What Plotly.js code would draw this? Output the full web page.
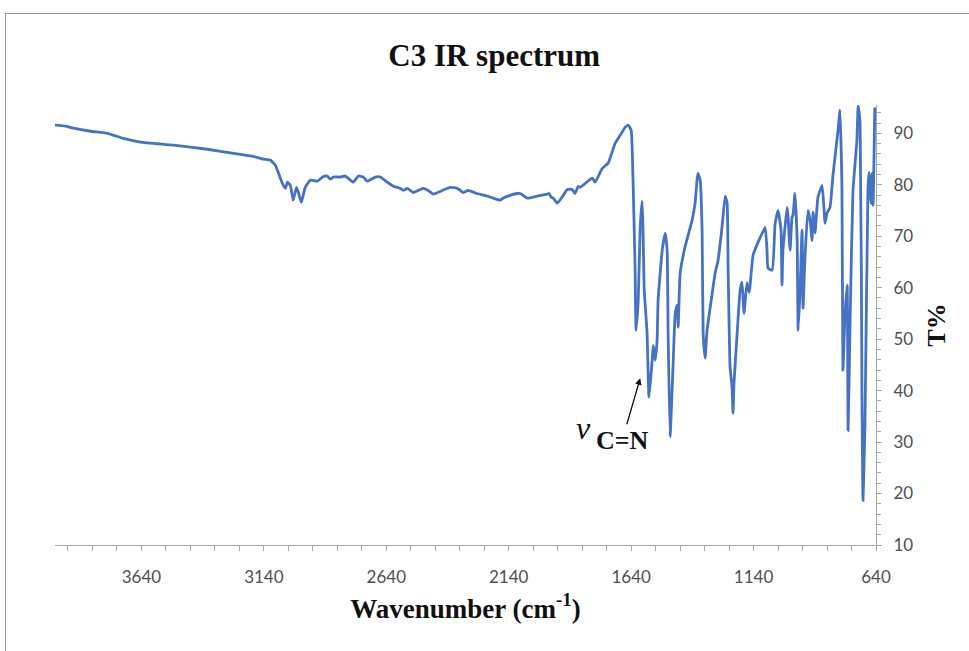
<!DOCTYPE html>
<html>
<head>
<meta charset="utf-8">
<script src="https://cdn.plot.ly/plotly-3.0.1.min.js"></script>
<style>
  html, body { margin: 0; padding: 0; background: #fff; }
  #chart { width: 969px; height: 651px; }
  #frame { position: absolute; left: 5px; top: 13px; width: 980px; height: 660px;
           border-left: 1px solid #9a9a9a; border-top: 1px solid #9a9a9a; pointer-events: none; }
</style>
</head>
<body>
<div id="chart"></div>
<div id="frame"></div>
<script>
// Wavenumber (cm-1)
const wavenumber = [
  3995, 3950, 3918, 3848, 3779, 3714, 3644, 3509, 3371, 3236, 3183, 3142, 3114, 3093, 3081,
  3065, 3052, 3044, 3032, 3020, 3007, 2999, 2987, 2971, 2950, 2922, 2897, 2881, 2869, 2856,
  2828, 2807, 2775, 2754, 2734, 2718, 2685, 2664, 2636, 2611, 2583, 2571, 2554, 2530, 2489,
  2469, 2448, 2411, 2379, 2350, 2326, 2306, 2269, 2228, 2204, 2175, 2163, 2143, 2105, 2093,
  2064, 2024, 1983, 1975, 1967, 1958, 1942, 1922, 1901, 1881, 1869, 1856, 1848, 1799, 1787,
  1758, 1734, 1705, 1685, 1664, 1652, 1640, 1632, 1624, 1620, 1611, 1603, 1595, 1591, 1587,
  1575, 1567, 1554, 1550, 1542, 1534, 1530, 1513, 1501, 1493, 1489, 1481, 1469, 1460, 1452,
  1448, 1440, 1420, 1391, 1379, 1371, 1367, 1358, 1350, 1346, 1338, 1330, 1309, 1297, 1285,
  1269, 1256, 1248, 1244, 1236, 1228, 1224, 1220, 1207, 1195, 1187, 1179, 1167, 1158, 1142,
  1122, 1093, 1085, 1081, 1064, 1052, 1040, 1028, 1024, 1020, 1003, 999, 991, 983, 979,
  971, 962, 958, 950, 942, 938, 930, 918, 909, 901, 897, 889, 877, 860, 848,
  840, 828, 815, 795, 787, 779, 775, 767, 758, 754, 746, 734, 718, 713, 705,
  697, 693, 685, 673, 669, 660, 656, 652, 645
];
// Transmittance T%
const transmittance = [
  91.6, 91.4, 91.0, 90.4, 90.0, 89.0, 88.3, 87.7, 86.9, 85.9, 85.5, 85.0, 84.8, 83.8, 82.4,
  80.3, 79.3, 80.5, 79.9, 77.0, 79.5, 78.5, 76.6, 79.5, 80.9, 80.7, 81.6, 81.7, 81.1, 81.5,
  81.5, 81.7, 80.5, 81.7, 81.5, 80.7, 81.5, 81.5, 80.5, 79.7, 79.3, 78.9, 79.3, 78.5, 79.3,
  78.9, 78.2, 78.9, 79.5, 79.3, 78.5, 78.9, 78.3, 77.8, 77.4, 77.0, 77.4, 77.8, 78.3, 78.3,
  77.4, 77.8, 78.2, 78.3, 77.6, 77.4, 76.4, 77.6, 79.1, 79.1, 78.3, 79.7, 79.5, 81.3, 80.5,
  83.2, 84.2, 88.1, 89.6, 91.2, 91.6, 90.6, 80.3, 64.0, 51.7, 57.6, 71.7, 76.8, 70.6, 60.0,
  51.2, 38.7, 45.9, 48.8, 45.9, 49.8, 57.6, 67.3, 70.6, 67.3, 51.2, 31.0, 44.6, 55.0, 56.6,
  52.3, 62.8, 67.9, 73.1, 76.4, 80.9, 82.2, 80.9, 70.6, 51.2, 46.3, 51.7, 58.9, 62.8, 65.3,
  71.7, 77.8, 76.4, 64.0, 44.6, 40.7, 35.6, 41.4, 51.2, 59.5, 61.1, 55.0, 61.0, 59.1, 66.3,
  68.8, 71.7, 67.3, 63.8, 63.4, 72.5, 75.0, 71.2, 60.5, 67.3, 75.6, 73.7, 67.3, 73.7, 74.1,
  78.3, 69.2, 51.7, 59.5, 71.2, 56.0, 65.9, 75.0, 73.1, 69.2, 74.7, 70.6, 77.6, 79.9, 72.5,
  74.5, 75.6, 82.2, 90.6, 94.5, 78.9, 44.0, 54.3, 60.5, 32.3, 53.1, 78.9, 88.6, 95.4, 91.9,
  36.8, 18.7, 33.7, 78.9, 82.4, 76.4, 82.2, 76.0, 95.0
];
const xTickVals = [3640, 3140, 2640, 2140, 1640, 1140, 640];
const xTickText = ["3640", "3140", "2640", "2140", "1640", "1140", "640"];
const yTickVals = [10, 20, 30, 40, 50, 60, 70, 80, 90];

const trace = {
  x: wavenumber,
  y: transmittance,
  type: 'scatter',
  mode: 'lines',
  line: { color: '#4472C4', width: 2.8, shape: 'spline', smoothing: 0.4 },
  hoverinfo: 'x+y',
  showlegend: false
};

const axisFont = { family: 'Lato, "Open Sans", sans-serif', size: 17, color: '#505050' };
const serif = '"Liberation Serif", "Times New Roman", serif';

const layout = {
  width: 969,
  height: 651,
  margin: { l: 55, r: 93, t: 105, b: 106 },
  paper_bgcolor: '#ffffff',
  plot_bgcolor: '#ffffff',
  title: {
    text: 'C3 IR spectrum',
    font: { family: serif, size: 31, color: '#111', weight: 'bold' },
    x: 0.51, xref: 'container', xanchor: 'center',
    y: 0.915, yref: 'container', yanchor: 'middle'
  },
  xaxis: {
    range: [3993, 640],
    autorange: false,
    tickmode: 'array',
    tickvals: xTickVals,
    ticktext: xTickText,
    tickfont: axisFont,
    ticks: 'outside',
    ticklen: 5,
    tickcolor: '#a6a6a6',
    ticklabelstandoff: 12,
    minor: { dtick: 100, tick0: 640, ticks: 'outside', ticklen: 5, tickcolor: '#a6a6a6' },
    showline: true,
    linecolor: '#a6a6a6',
    linewidth: 1,
    showgrid: false,
    zeroline: false,
    title: {
      text: 'Wavenumber (cm<sup>-1</sup>)',
      font: { family: serif, size: 27, color: '#111', weight: 'bold' },
      standoff: 12
    }
  },
  yaxis: {
    range: [10, 95.5],
    autorange: false,
    side: 'right',
    tickmode: 'array',
    tickvals: yTickVals,
    tickfont: axisFont,
    ticks: 'outside',
    ticklen: 5,
    tickcolor: '#a6a6a6',
    ticklabelstandoff: 8,
    minor: { dtick: 2, tick0: 10, ticks: 'outside', ticklen: 4, tickcolor: '#a6a6a6' },
    showline: true,
    linecolor: '#a6a6a6',
    linewidth: 1,
    showgrid: false,
    zeroline: false,
    title: {
      text: 'T%',
      font: { family: serif, size: 26, color: '#111', weight: 'bold' },
      standoff: 14
    }
  },
  annotations: [
    {
      x: 1603, y: 42.4, xref: 'x', yref: 'y',
      ax: -18, ay: 62, axref: 'pixel', ayref: 'pixel',
      text: 'C=N', showarrow: true,
      arrowhead: 2, arrowsize: 1, arrowwidth: 1.3, arrowcolor: '#111',
      font: { family: serif, size: 26, color: '#111', weight: 'bold' }
    },
    {
      x: 1833, y: 32.7, xref: 'x', yref: 'y',
      text: '<i>ν</i>', showarrow: false,
      font: { family: serif, size: 32, color: '#111' }
    }
  ]
};

Plotly.newPlot('chart', [trace], layout, { displayModeBar: false, responsive: false });
</script>
</body>
</html>
